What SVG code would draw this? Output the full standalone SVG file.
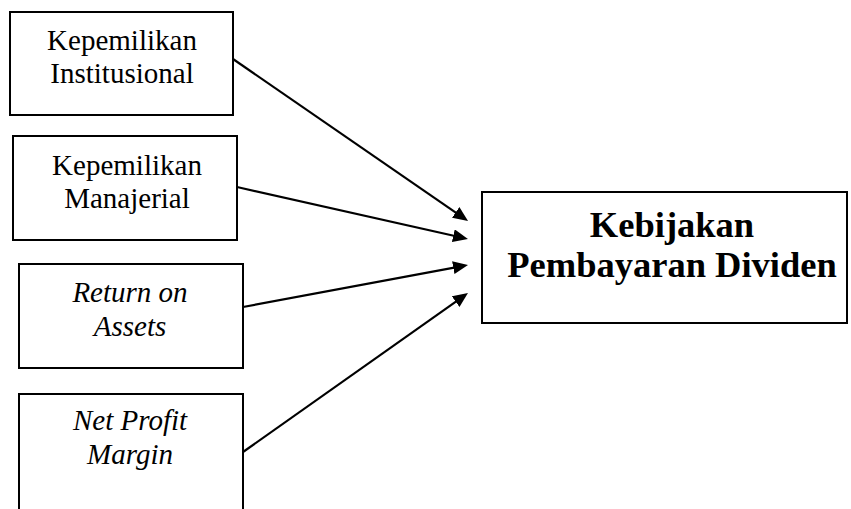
<svg xmlns="http://www.w3.org/2000/svg" width="851" height="509" viewBox="0 0 851 509">
<style>
.box{fill:#fff;stroke:#000;stroke-width:2}
.t{font-family:"Liberation Serif","Times New Roman",serif;font-size:29px;fill:#000;text-anchor:middle}
.i{font-style:italic}
.b{font-weight:bold;font-size:36.5px}
.c{stroke:#000;stroke-width:2.2;fill:none}
</style>
<defs>
<marker id="ah" markerUnits="userSpaceOnUse" markerWidth="16" markerHeight="14" refX="5" refY="6.5" orient="auto">
<path d="M0,0 L15,6.5 L0,13 z" fill="#000"/>
</marker>
</defs>
<rect width="851" height="509" fill="#fff"/>
<g id="n1">
<rect class="box" x="10" y="12" width="223" height="103"/>
<text class="t" x="122" y="50">Kepemilikan</text>
<text class="t" x="122" y="83">Institusional</text>
</g>
<g id="n2">
<rect class="box" x="13" y="136" width="224" height="104"/>
<text class="t" x="127" y="175">Kepemilikan</text>
<text class="t" x="127" y="208">Manajerial</text>
</g>
<g id="n3">
<rect class="box" x="19" y="264" width="224" height="104"/>
<text class="t i" x="130" y="302">Return on</text>
<text class="t i" x="130" y="336">Assets</text>
</g>
<g id="n4">
<rect class="box" x="19" y="394" width="224" height="130"/>
<text class="t i" x="130" y="430">Net Profit</text>
<text class="t i" x="130" y="464">Margin</text>
</g>
<g id="target">
<rect class="box" x="482" y="192" width="365" height="131"/>
<text class="t b" x="672" y="237">Kebijakan</text>
<text class="t b" x="672" y="277">Pembayaran Dividen</text>
</g>
<g id="connectors">
<line class="c" x1="233" y1="59" x2="459.8" y2="215.3" marker-end="url(#ah)"/>
<line class="c" x1="237" y1="187" x2="458.2" y2="236.8" marker-end="url(#ah)"/>
<line class="c" x1="243" y1="307" x2="458.2" y2="266.8" marker-end="url(#ah)"/>
<line class="c" x1="243" y1="452" x2="459.8" y2="298.8" marker-end="url(#ah)"/>
</g>
</svg>
